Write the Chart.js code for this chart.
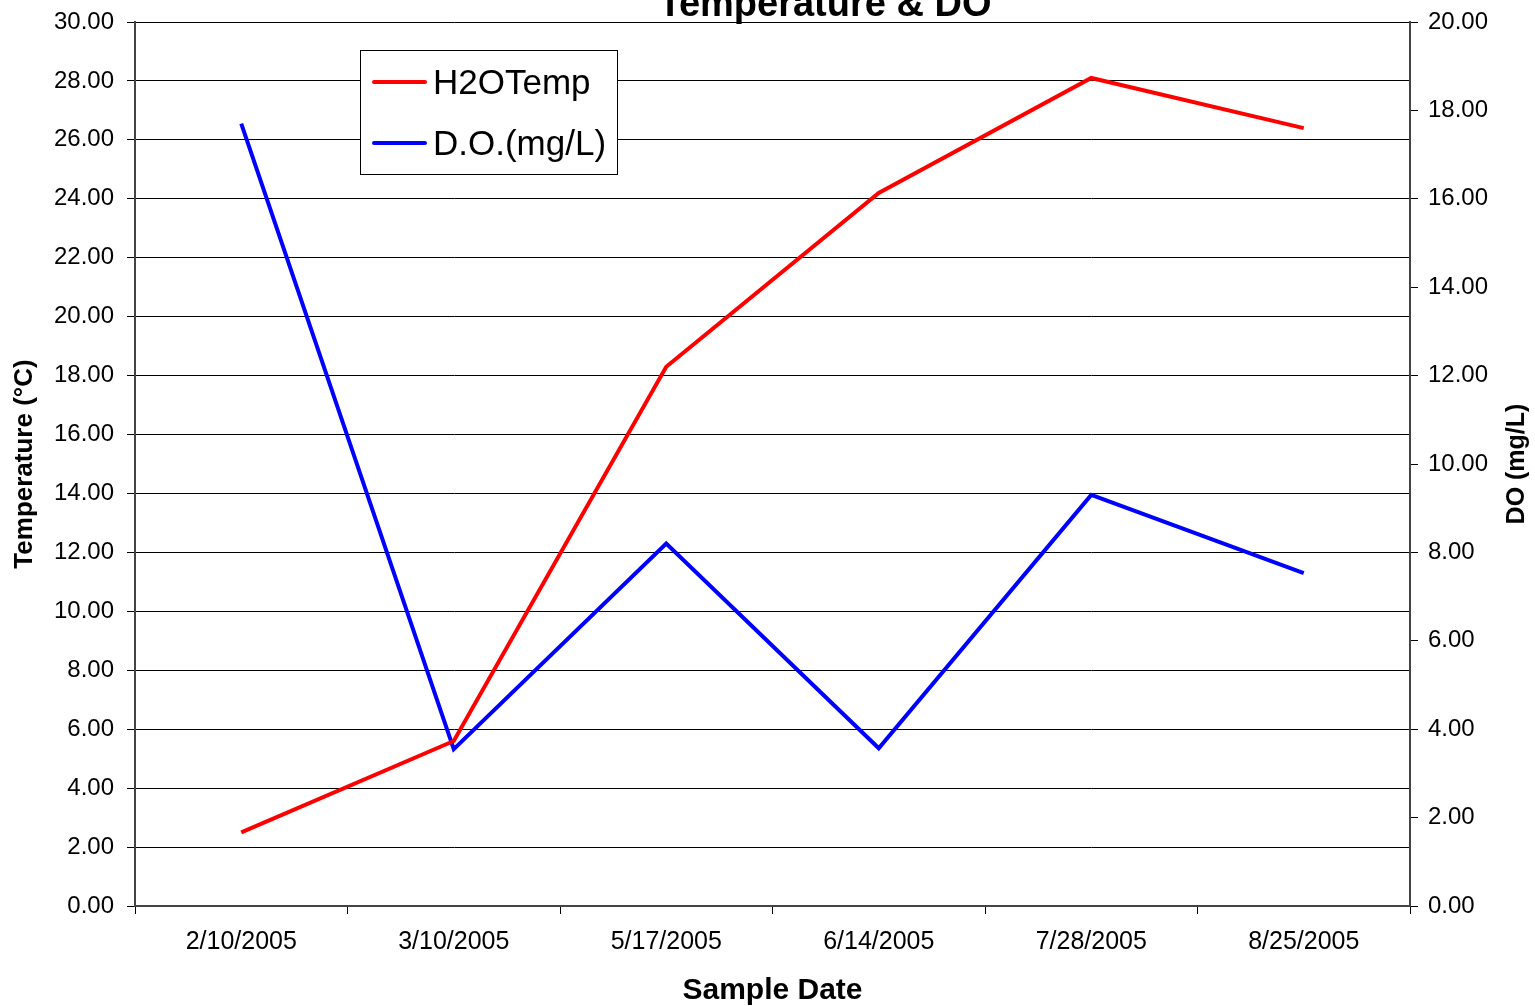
<!DOCTYPE html>
<html>
<head>
<meta charset="utf-8">
<title>Temperature &amp; DO</title>
<script src="https://cdn.jsdelivr.net/npm/chart.js@4/dist/chart.umd.min.js"></script>
<style>
  html, body { margin: 0; padding: 0; background: #ffffff; }
  #wrap { width: 1535px; height: 1006px; }
</style>
</head>
<body>
<div id="wrap"><canvas id="chart" width="1535" height="1006"></canvas></div>
<script>
// Sample dates and readings
const sampleDates = ['2/10/2005', '3/10/2005', '5/17/2005', '6/14/2005', '7/28/2005', '8/25/2005'];
const waterTemp = [2.5, 5.6, 18.3, 24.2, 28.1, 26.4];       // °C, left axis
const dissolvedOxygen = [17.7, 3.55, 8.2, 3.57, 9.3, 7.53];  // mg/L, right axis

const chartTitle = 'Temperature & DO';
const tempAxisTitle = 'Temperature (°C)';
const doAxisTitle = 'DO (mg/L)';
const dateAxisTitle = 'Sample Date';

const FONT = 'Arial, "Liberation Sans", sans-serif';

// Chart title (partly clipped by the canvas top) and the right-hand axis
// title, which reads bottom-to-top like the left one
const titlePlugin = {
  id: 'extraTitles',
  afterDraw(chart) {
    const ctx = chart.ctx;
    const area = chart.chartArea;
    ctx.save();
    ctx.font = 'bold 38px ' + FONT;
    ctx.fillStyle = '#000';
    ctx.textAlign = 'center';
    ctx.textBaseline = 'alphabetic';
    ctx.fillText(chartTitle, 825, 16);

    ctx.translate(1517, (area.top + area.bottom) / 2);
    ctx.rotate(-Math.PI / 2);
    ctx.font = 'bold 25px ' + FONT;
    ctx.textBaseline = 'middle';
    ctx.fillText(doAxisTitle, 0, 0);
    ctx.restore();
  }
};

// Boxed legend placed inside the plot area
const boxLegend = {
  id: 'boxLegend',
  afterDatasetsDraw(chart) {
    const ctx = chart.ctx;
    const x = 360, y = 50, w = 257, h = 124;
    ctx.save();
    ctx.fillStyle = '#fff';
    ctx.fillRect(x, y, w, h);
    ctx.strokeStyle = '#000';
    ctx.lineWidth = 1;
    ctx.strokeRect(x + 0.5, y + 0.5, w, h);
    ctx.font = '35px ' + FONT;
    ctx.textBaseline = 'middle';
    ctx.textAlign = 'left';
    chart.data.datasets.forEach((ds, i) => {
      const ly = y + 32 + i * 61;
      ctx.strokeStyle = ds.borderColor;
      ctx.lineWidth = 4;
      ctx.lineCap = 'round';
      ctx.beginPath();
      ctx.moveTo(374, ly);
      ctx.lineTo(425, ly);
      ctx.stroke();
      ctx.fillStyle = '#000';
      ctx.fillText(ds.label, 433, ly + 2);
    });
    ctx.restore();
  }
};

new Chart(document.getElementById('chart'), {
  type: 'line',
  data: {
    labels: sampleDates,
    datasets: [
      {
        label: 'H2OTemp',
        data: waterTemp,
        yAxisID: 'yTemp',
        borderColor: '#ff0000',
        borderWidth: 4,
        pointRadius: 0,
        tension: 0,
        fill: false
      },
      {
        label: 'D.O.(mg/L)',
        data: dissolvedOxygen,
        yAxisID: 'yDO',
        borderColor: '#0000ff',
        borderWidth: 4,
        pointRadius: 0,
        tension: 0,
        fill: false
      }
    ]
  },
  options: {
    responsive: false,
    animation: false,
    devicePixelRatio: 1,
    layout: { padding: { top: 22, left: 0, right: 0, bottom: 0 } },
    plugins: {
      legend: { display: false },
      title: { display: false },
      tooltip: { enabled: false }
    },
    scales: {
      x: {
        offset: true,
        afterFit: s => { s.height = 100; },
        grid: {
          offset: true,
          drawOnChartArea: false,
          drawTicks: true,
          tickLength: 8,
          color: '#000',
          lineWidth: 1
        },
        border: { display: true, color: '#444', width: 2 },
        ticks: {
          color: '#000',
          font: { family: FONT, size: 25 },
          padding: 13,
          maxRotation: 0,
          autoSkip: false
        },
        title: {
          display: true,
          text: dateAxisTitle,
          color: '#000',
          font: { family: FONT, size: 30, weight: 'bold' },
          padding: { top: 0, bottom: -3 }
        }
      },
      yTemp: {
        position: 'left',
        min: 0,
        max: 30,
        afterFit: s => { s.width = 135; },
        grid: {
          drawOnChartArea: true,
          drawTicks: true,
          tickLength: 8,
          color: '#000',
          lineWidth: 1
        },
        border: { display: true, color: '#444', width: 2 },
        ticks: {
          stepSize: 2,
          color: '#000',
          font: { family: FONT, size: 24, lineHeight: 0.6 },
          padding: 13,
          callback: v => Number(v).toFixed(2)
        },
        title: {
          display: true,
          text: tempAxisTitle,
          color: '#000',
          font: { family: FONT, size: 26, weight: 'bold' },
          padding: { top: 9, bottom: 0 }
        }
      },
      yDO: {
        position: 'right',
        min: 0,
        max: 20,
        afterFit: s => { s.width = 125; },
        grid: {
          drawOnChartArea: false,
          drawTicks: true,
          tickLength: 8,
          color: '#000',
          lineWidth: 1
        },
        border: { display: true, color: '#444', width: 2 },
        ticks: {
          stepSize: 2,
          color: '#000',
          font: { family: FONT, size: 24, lineHeight: 0.6 },
          padding: 10,
          callback: v => Number(v).toFixed(2)
        },
        title: { display: false }
      }
    }
  },
  plugins: [boxLegend, titlePlugin]
});
</script>
</body>
</html>
